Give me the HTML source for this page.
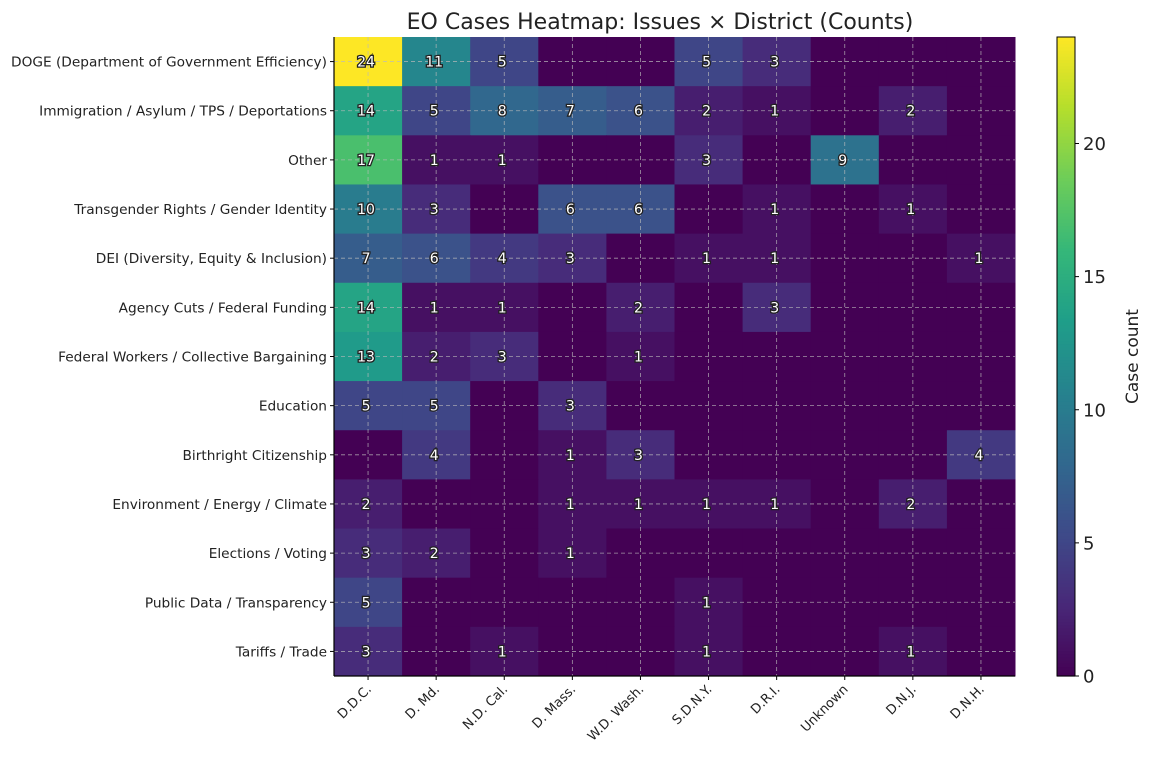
<!DOCTYPE html>
<html><head><meta charset="utf-8"><style>
body{margin:0;background:#fff;}
svg text{font-family:"DejaVu Sans","Liberation Sans",sans-serif;}
</style></head><body>
<svg id="chart" width="1152" height="756" xmlns="http://www.w3.org/2000/svg">
<text x="660" y="29" font-size="22" text-anchor="middle" fill="#222">EO Cases Heatmap: Issues × District (Counts)</text>
<g id="cells"></g><g id="grid"></g><g id="ann"></g><g id="axes"></g><g id="cbar"></g>
</svg>
<script>
const rows=["DOGE (Department of Government Efficiency)","Immigration / Asylum / TPS / Deportations","Other","Transgender Rights / Gender Identity","DEI (Diversity, Equity & Inclusion)","Agency Cuts / Federal Funding","Federal Workers / Collective Bargaining","Education","Birthright Citizenship","Environment / Energy / Climate","Elections / Voting","Public Data / Transparency","Tariffs / Trade"];
const cols=["D.D.C.","D. Md.","N.D. Cal.","D. Mass.","W.D. Wash.","S.D.N.Y.","D.R.I.","Unknown","D.N.J.","D.N.H."];
const values=[
[24,11,5,0,0,5,3,0,0,0],
[14,5,8,7,6,2,1,0,2,0],
[17,1,1,0,0,3,0,9,0,0],
[10,3,0,6,6,0,1,0,1,0],
[7,6,4,3,0,1,1,0,0,1],
[14,1,1,0,2,0,3,0,0,0],
[13,2,3,0,1,0,0,0,0,0],
[5,5,0,3,0,0,0,0,0,0],
[0,4,0,1,3,0,0,0,0,4],
[2,0,0,1,1,1,1,0,2,0],
[3,2,0,1,0,0,0,0,0,0],
[5,0,0,0,0,1,0,0,0,0],
[3,0,1,0,0,1,0,0,1,0]];
const cbTicks=[0,5,10,15,20];
const L=334,T=37,R=1015,B=676;
const vmax=Math.max(...values.flat());
const cw=(R-L)/cols.length, ch=(B-T)/rows.length;
const xS=i=>L+i*cw, yS=j=>T+j*ch;
const stops=[[68,1,84],[72,40,120],[62,74,137],[49,104,142],[38,130,142],[31,158,137],[53,183,121],[109,205,89],[180,222,44],[253,231,37]];
function vir(t){t=Math.max(0,Math.min(1,t));const p=t*(stops.length-1),i=Math.min(Math.floor(p),stops.length-2),f=p-i;const a=stops[i],b=stops[i+1];return `rgb(${a.map((v,k)=>Math.round(v+(b[k]-v)*f)).join(',')})`;}
const NS="http://www.w3.org/2000/svg";
function mk(tag,attrs,parent,txt){const e=document.createElementNS(NS,tag);for(const k in attrs)e.setAttribute(k,attrs[k]);if(txt!==undefined)e.textContent=txt;document.getElementById(parent).appendChild(e);return e;}
values.forEach((row,j)=>row.forEach((v,i)=>{
 const r=mk('rect',{x:xS(i),y:yS(j),width:cw+0.5,height:ch+0.5,fill:vir(v/vmax)},'cells');
 
 
 if(v>0){const t=mk('text',{x:xS(i)+cw/2-2,y:yS(j)+ch/2+5,'font-size':14,'text-anchor':'middle',fill:'#fff',stroke:'#222','stroke-width':2.6,'paint-order':'stroke'},'ann',v);
 
 }
}));
cols.forEach((c,i)=>{const x=xS(i)+cw/2;
 mk('line',{x1:x,y1:T,x2:x,y2:B,stroke:'#bbb','stroke-dasharray':'4,3','stroke-width':0.8,opacity:0.8},'grid');
 mk('line',{x1:x,y1:B,x2:x,y2:B+4,stroke:'#000'},'axes');
 const t=mk('text',{x:x+4,y:B+14,'font-size':13,'text-anchor':'end',fill:'#222',transform:`rotate(-45 ${x+4} ${B+14})`},'axes',c);
 
 });
rows.forEach((r,j)=>{const y=yS(j)+ch/2;
 mk('line',{x1:L,y1:y,x2:R,y2:y,stroke:'#bbb','stroke-dasharray':'4,3','stroke-width':0.8,opacity:0.8},'grid');
 mk('line',{x1:L-4,y1:y,x2:L,y2:y,stroke:'#000'},'axes');
 const t=mk('text',{x:L-7,y:y+5,'font-size':13.7,'text-anchor':'end',fill:'#222'},'axes',r);
 
 });
mk('line',{x1:L,y1:T,x2:L,y2:B,stroke:'#000','stroke-width':1.2},'axes');
mk('line',{x1:L,y1:B,x2:R,y2:B,stroke:'#000','stroke-width':1.2},'axes');
const CX=1057,CW=18;
for(let k=0;k<200;k++){const y0=B-(k+1)*(B-T)/200;mk('rect',{x:CX,y:y0,width:CW,height:(B-T)/200+0.6,fill:vir((k+0.5)/200)},'cbar');}
mk('rect',{x:CX,y:T,width:CW,height:B-T,fill:'none',stroke:'#000','stroke-width':1},'cbar');
cbTicks.forEach(v=>{const y=B-(v/vmax)*(B-T);
 mk('line',{x1:CX+CW,y1:y,x2:CX+CW+4,y2:y,stroke:'#000'},'cbar');
 const t=mk('text',{x:CX+CW+8,y:y+6.5,'font-size':18,fill:'#222'},'cbar',v);
 
 });
const cl=mk('text',{x:1138,y:(T+B)/2,'font-size':17,'text-anchor':'middle',fill:'#222',transform:`rotate(-90 1138 ${(T+B)/2})`},'cbar','Case count');


</script>
</body></html>
